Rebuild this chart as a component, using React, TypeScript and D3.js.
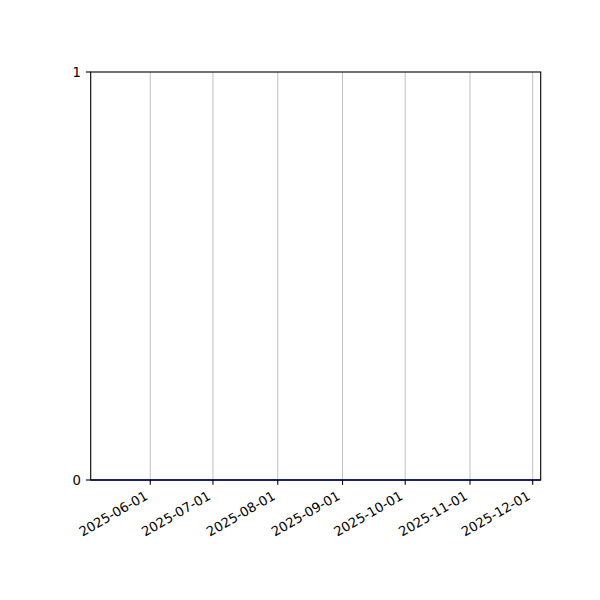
import React from "react";
import * as d3 from "d3";

const seriesDates: string[] = ["2025-05-03T12:00:00", "2025-12-04T20:00:00"];
const seriesValues: number[] = [0, 0];
const xTickDates: string[] = [
  "2025-06-01",
  "2025-07-01",
  "2025-08-01",
  "2025-09-01",
  "2025-10-01",
  "2025-11-01",
  "2025-12-01",
];
const yTicks: number[] = [0, 1];

const W = 600;
const H = 600;
const M = { left: 90.7, right: 59.3, top: 72, bottom: 120 };
const FONT = "'DejaVu Sans', sans-serif";
const FS = 13.2;

export default function App() {
  const parse = (s: string) => new Date(s);
  const pts = seriesDates.map((d, i) => ({ x: parse(d), y: seriesValues[i] }));
  const x = d3
    .scaleTime()
    .domain(d3.extent(pts, (p) => p.x) as [Date, Date])
    .range([M.left, W - M.right]);
  const y = d3.scaleLinear().domain([0, 1]).range([H - M.bottom, M.top]);
  const line = d3
    .line<{ x: Date; y: number }>()
    .x((p) => x(p.x))
    .y((p) => y(p.y));
  const x0 = M.left;
  const x1 = W - M.right;
  const y0 = H - M.bottom;
  const y1 = M.top;
  const tickLen = 4.86;
  return (
    <svg
      width={W}
      height={H}
      style={{ position: "absolute", left: 0, top: 0, background: "#fff" }}
      fontFamily={FONT}
    >
      <rect x={0} y={0} width={W} height={H} fill="#fff" />
      {xTickDates.map((t) => {
        const px = x(parse(t + "T00:00:00"));
        return (
          <line key={"g" + t} x1={px} x2={px} y1={y0} y2={y1} stroke="#b0b0b0" strokeWidth={0.8} />
        );
      })}
      <path d={line(pts) || ""} fill="none" stroke="#0000ff" strokeWidth={1.5} />
      <rect x={x0} y={y1} width={x1 - x0} height={y0 - y1} fill="none" stroke="#000" strokeWidth={1.1} />
      {xTickDates.map((t) => {
        const px = x(parse(t + "T00:00:00"));
        return (
          <g key={"t" + t}>
            <line x1={px} x2={px} y1={y0} y2={y0 + tickLen} stroke="#000" strokeWidth={1.1} />
            <text
              x={0}
              y={0}
              transform={`translate(${px - 1.5},${y0 + 18.5}) rotate(-30)`}
              textAnchor="end"
              fontSize={FS}
              fill="#000"
            >
              {t}
            </text>
          </g>
        );
      })}
      {yTicks.map((v) => (
        <g key={"y" + v}>
          <line x1={x0 - tickLen} x2={x0} y1={y(v)} y2={y(v)} stroke="#000" strokeWidth={1.1} />
          <text x={x0 - 9.7} y={y(v)} dy="0.36em" textAnchor="end" fontSize={FS} fill="#000">
            {v}
          </text>
        </g>
      ))}
    </svg>
  );
}
